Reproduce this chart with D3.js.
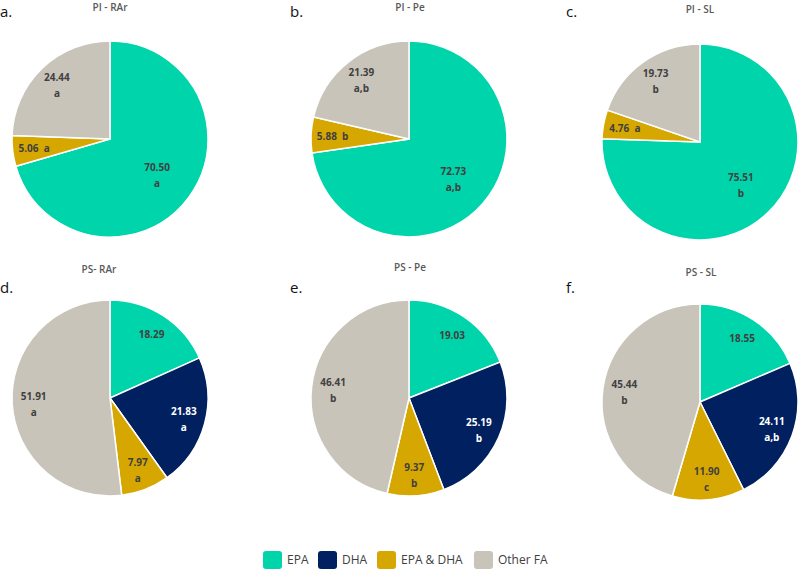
<!DOCTYPE html>
<html>
<head>
<meta charset="utf-8">
<script src="https://cdn.jsdelivr.net/npm/d3@7"></script>
<style>
  body { margin: 0; background: #fff; }
  svg { display: block; font-family: "Open Sans", sans-serif; }
</style>
</head>
<body>
<div id="chart"></div>
<script>
// fatty acid shares (%) per panel
const categories = ["EPA", "DHA", "EPA & DHA", "Other FA"];
const panelTitles = ["PI - RAr", "PI - Pe", "PI - SL", "PS- RAr", "PS - Pe", "PS - SL"];
const panelLetters = ["a.", "b.", "c.", "d.", "e.", "f."];
const epaValues = [70.50, 72.73, 75.51, 18.29, 19.03, 18.55];
const dhaValues = [0, 0, 0, 21.83, 25.19, 24.11];
const epaDhaValues = [5.06, 5.88, 4.76, 7.97, 9.37, 11.90];
const otherValues = [24.44, 21.39, 19.73, 51.91, 46.41, 45.44];
const epaLetters = ["a", "a,b", "b", "", "", ""];
const dhaLetters = ["", "", "", "a", "b", "a,b"];
const epaDhaLetters = ["a", "b", "a", "a", "b", "c"];
const otherLetters = ["a", "a,b", "b", "a", "b", "b"];

let config = {
  width: 799,
  height: 571,
  radius: 98,
  colors: ["#00d4aa", "#00205f", "#d6a700", "#c9c4ba"],
  textColor: "#404040",
  // pie centres, title and panel letter positions
  panels: [
    {cx: 110, cy: 139, tx: 110, ty: 11, lx: 0, ly: 17},
    {cx: 409, cy: 139, tx: 410, ty: 11, lx: 290, ly: 17},
    {cx: 700, cy: 142, tx: 700, ty: 13, lx: 566, ly: 17},
    {cx: 110, cy: 398, tx: 99, ty: 273, lx: 0, ly: 293},
    {cx: 409, cy: 398, tx: 410, ty: 271, lx: 290, ly: 293},
    {cx: 700, cy: 402, tx: 701, ty: 276, lx: 566, ly: 293}
  ]
};

const svg = d3.select("#chart").append("svg")
  .attr("width", config.width)
  .attr("height", config.height);

const color = d3.scaleOrdinal().domain(categories).range(config.colors);

const pie = d3.pie().sort(null).value(d => d.value);
const arc = d3.arc().innerRadius(0).outerRadius(config.radius);

panelTitles.forEach((title, i) => {
  const p = config.panels[i];
  const slices = [
    {cat: categories[0], value: epaValues[i], letter: epaLetters[i]},
    {cat: categories[1], value: dhaValues[i], letter: dhaLetters[i]},
    {cat: categories[2], value: epaDhaValues[i], letter: epaDhaLetters[i]},
    {cat: categories[3], value: otherValues[i], letter: otherLetters[i]}
  ].filter(d => d.value > 0);

  svg.append("text")
    .attr("x", p.lx)
    .attr("y", p.ly)
    .attr("font-size", 15)
    .attr("fill", "#111")
    .text(panelLetters[i]);

  svg.append("text")
    .attr("x", p.tx)
    .attr("y", p.ty)
    .attr("text-anchor", "middle")
    .attr("font-size", 10)
    .attr("font-weight", 600)
    .attr("fill", "#595959")
    .text(title);

  const g = svg.append("g").attr("transform", `translate(${p.cx},${p.cy})`);
  const arcs = pie(slices);

  g.selectAll("path")
    .data(arcs)
    .enter()
    .append("path")
    .attr("d", arc)
    .attr("fill", d => color(d.data.cat))
    .attr("stroke", "#fff")
    .attr("stroke-width", 1.5);

  const labels = g.selectAll("g.lab")
    .data(arcs)
    .enter()
    .append("g")
    .attr("class", "lab")
    .attr("transform", d => {
      const r = d.data.value > 60 ? config.radius * 0.6 : config.radius * 0.78;
      const c = d3.arc().innerRadius(r).outerRadius(r).centroid(d);
      return `translate(${c[0]},${c[1]})`;
    });

  labels.each(function(d) {
    const el = d3.select(this);
    const fill = d.data.cat === "DHA" ? "#fff" : config.textColor;
    const txt = el.append("text")
      .attr("text-anchor", "middle")
      .attr("font-size", 10)
      .attr("font-weight", 700)
      .attr("fill", fill);
    const num = d.data.value.toFixed(2);
    if (d.data.value < 7) {
      txt.attr("y", 4).text(num + "  " + d.data.letter).attr("xml:space", "preserve");
    } else if (d.data.letter === "") {
      txt.attr("y", 4).text(num);
    } else {
      txt.append("tspan").attr("x", 0).attr("y", -3).text(num);
      txt.append("tspan").attr("x", 0).attr("y", 13).text(d.data.letter);
    }
  });
});

// legend
const legendX = [263, 318, 377, 474];
const legend = svg.selectAll("g.legend")
  .data(categories)
  .enter()
  .append("g")
  .attr("class", "legend")
  .attr("transform", (d, i) => `translate(${legendX[i]},551)`);

legend.append("rect")
  .attr("width", 19)
  .attr("height", 18)
  .attr("rx", 3)
  .attr("fill", d => color(d));

legend.append("text")
  .attr("x", 24)
  .attr("y", 13)
  .attr("font-size", 12)
  .attr("fill", config.textColor)
  .text(d => d);
</script>
</body>
</html>
